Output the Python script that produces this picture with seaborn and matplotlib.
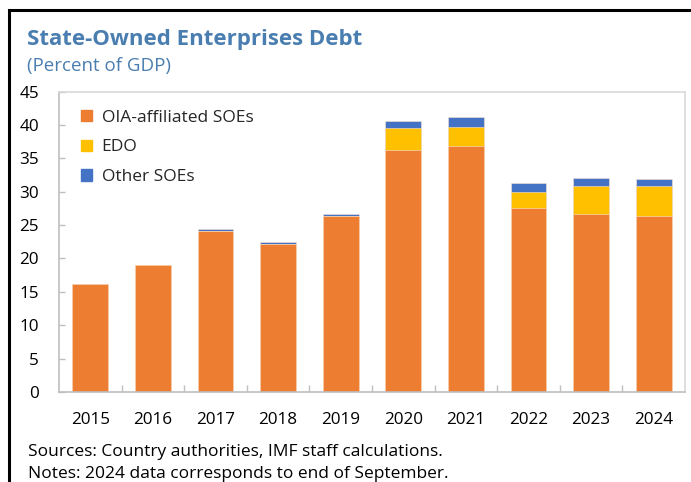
import matplotlib
matplotlib.use("Agg")
import matplotlib.pyplot as plt
from matplotlib.patches import Rectangle
from matplotlib.ticker import MultipleLocator, FixedLocator
import seaborn as sns
import pandas as pd
import numpy as np

# Debt of state-owned enterprises, percent of GDP
years = ["2015", "2016", "2017", "2018", "2019", "2020", "2021", "2022", "2023", "2024"]
oia_soes = [16.1, 19.0, 24.1, 22.2, 26.4, 36.2, 36.85, 27.6, 26.7, 26.4]
edo = [0.0, 0.0, 0.0, 0.0, 0.0, 3.3, 2.9, 2.4, 4.2, 4.4]
other_soes = [0.0, 0.0, 0.25, 0.3, 0.2, 1.15, 1.5, 1.25, 1.15, 1.15]

series_names = ["OIA-affiliated SOEs", "EDO", "Other SOEs"]
colors = ["#ED7D31", "#FFC000", "#4472C4"]

title = "State-Owned Enterprises Debt"
subtitle = "(Percent of GDP)"
sources = "Sources: Country authorities, IMF staff calculations."
notes = "Notes: 2024 data corresponds to end of September."

sns.set_theme(style="white")
plt.rcParams["font.family"] = ["Open Sans", "DejaVu Sans"]

df = pd.DataFrame({"year": years, "oia": oia_soes, "edo": edo, "other": other_soes})
df["lvl1"] = df["oia"]
df["lvl2"] = df["oia"] + df["edo"]
df["lvl3"] = df["lvl2"] + df["other"]

W, H = 691, 482
fig = plt.figure(figsize=(W / 100, H / 100), dpi=100)
ax = fig.add_axes([59 / W, 1 - 392 / H, (685 - 59) / W, (392 - 91.5) / H])

# stacked bars drawn back to front from cumulative totals
for col, color in zip(["lvl3", "lvl2", "lvl1"], colors[::-1]):
    sns.barplot(data=df, x="year", y=col, color=color, width=0.575, ax=ax,
                saturation=1, edgecolor="#fbe3d3", linewidth=0.4, errorbar=None)

ax.set_xlim(-0.5, 9.5)
ax.set_ylim(0, 45)
ax.yaxis.set_major_locator(MultipleLocator(5))
ax.set_xlabel("")
ax.set_ylabel("")

for s in ["left", "bottom"]:
    ax.spines[s].set_color("#bfbfbf")
    ax.spines[s].set_linewidth(1.2)
for s in ["top", "right"]:
    ax.spines[s].set_color("#d9d9d9")
    ax.spines[s].set_linewidth(1.2)

tick_fs = 12.3
ax.tick_params(axis="y", direction="in", length=4.5, width=1, color="#bfbfbf",
               pad=14.4, labelsize=tick_fs, labelcolor="black", left=True)
ax.tick_params(axis="x", which="major", length=0, pad=14.5, labelsize=tick_fs,
               labelcolor="black")
ax.xaxis.set_minor_locator(FixedLocator(np.arange(0.5, 9, 1.0)))
ax.tick_params(axis="x", which="minor", direction="in", length=5, width=1,
               color="#bfbfbf", bottom=True)

handles = [Rectangle((0, 0), 1, 1, color=c) for c in colors]
fig.legend(handles, series_names, loc="upper left",
           bbox_to_anchor=(80.7 / W, 1 - 109.5 / H), frameon=False, fontsize=12.5,
           handlelength=0.63, handleheight=0.63, handletextpad=0.57,
           labelspacing=0.8, borderaxespad=0, borderpad=0)

title_color = "#4A7EB0"
fig.text(26.7 / W, 1 - 45 / H, title, fontsize=16, fontweight="bold",
         color=title_color, va="baseline", ha="left")
fig.text(27 / W, 1 - 70.5 / H, subtitle, fontsize=13.5, color=title_color,
         va="baseline", ha="left")
fig.text(28 / W, 1 - 456 / H, sources, fontsize=12.5, color="black",
         va="baseline", ha="left")
fig.text(28 / W, 1 - 478 / H, notes, fontsize=12.5, color="black",
         va="baseline", ha="left")

# outer frame of the exhibit
fig.patches.append(Rectangle((8.5 / W, -0.2), 1.2, 1.2 - 10 / H,
                             transform=fig.transFigure, fill=False,
                             edgecolor="black", linewidth=2.2))

fig.savefig("out.png", dpi=100)
